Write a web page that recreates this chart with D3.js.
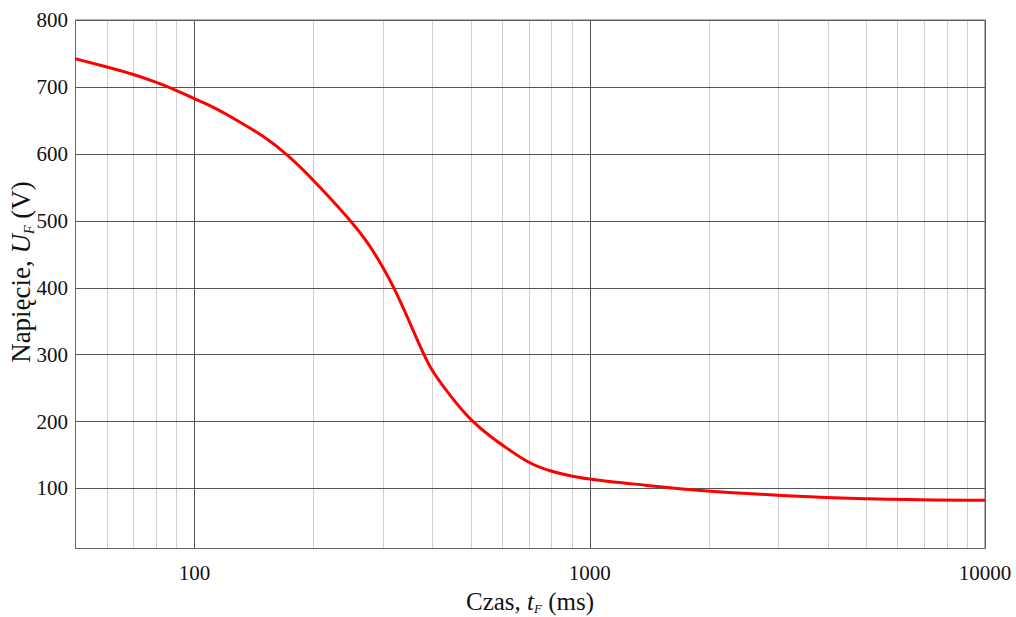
<!DOCTYPE html>
<html>
<head>
<meta charset="utf-8">
<script src="https://cdn.jsdelivr.net/npm/d3@7"></script>
<style>
  body { margin: 0; background: #fff; }
  svg { display: block; font-family: "Liberation Serif", "DejaVu Serif", serif; }
</style>
</head>
<body>
<svg id="chart" width="1016" height="617"></svg>
<script>
// curve values
const timeMs = [50, 60, 70, 80, 90, 100, 110, 130, 150, 171, 200, 248, 278, 300, 320, 345, 380, 400, 444, 500, 570, 600, 700, 800, 900, 1000, 1420, 1690, 2000, 2540, 3000, 4000, 5000, 6000, 10000]
const voltage = [742, 730, 719, 707, 695, 682, 672, 648, 626, 600, 561, 501, 463, 430, 400, 357, 300, 274, 238, 201, 174, 165, 137, 125, 118, 113, 104, 99, 95.5, 92, 89.6, 86, 84.5, 83, 82]

const xMajor = [100, 1000, 10000]
const xMinor = [60, 70, 80, 90, 200, 300, 400, 500, 600, 700, 800, 900, 2000, 3000, 4000, 5000, 6000, 7000, 8000, 9000]
const yTicks = [100, 200, 300, 400, 500, 600, 700, 800]

const data = timeMs.map((t, i) => ({ t: t, u: voltage[i] }))

const margin = { left: 75.5, top: 20, right: 1016 - 985, bottom: 617 - 548.5 }
const width = 1016, height = 617

const x = d3.scaleLog()
    .domain([50, 10000])
    .range([margin.left, width - margin.right])

const y = d3.scaleLinear()
    .domain([10, 800])
    .range([height - margin.bottom, margin.top])

const svg = d3.select("#chart")

// minor grid
svg.append("g")
  .selectAll("line")
  .data(xMinor)
  .join("line")
    .attr("x1", d => Math.round(x(d)) + 0.5)
    .attr("x2", d => Math.round(x(d)) + 0.5)
    .attr("y1", y(10))
    .attr("y2", y(800))
    .attr("stroke", "#d0d0d0")
    .attr("stroke-width", 1)

// major grid
svg.append("g")
  .selectAll("line")
  .data(yTicks)
  .join("line")
    .attr("x1", x(50))
    .attr("x2", x(10000))
    .attr("y1", d => Math.round(y(d)) + 0.5)
    .attr("y2", d => Math.round(y(d)) + 0.5)
    .attr("stroke", "#555")
    .attr("stroke-width", 1)

svg.append("g")
  .selectAll("line")
  .data(xMajor)
  .join("line")
    .attr("x1", d => Math.round(x(d)) + 0.5)
    .attr("x2", d => Math.round(x(d)) + 0.5)
    .attr("y1", y(10))
    .attr("y2", y(800))
    .attr("stroke", "#555")
    .attr("stroke-width", 1)

// frame
svg.append("rect")
    .attr("x", x(50))
    .attr("y", y(800))
    .attr("width", x(10000) - x(50))
    .attr("height", y(10) - y(800))
    .attr("fill", "none")
    .attr("stroke", "#666")
    .attr("stroke-width", 1)

// tick labels
svg.append("g")
    .style("font-size", "21px")
  .selectAll("text")
  .data(yTicks)
  .join("text")
    .attr("x", 68)
    .attr("y", d => y(d))
    .attr("dy", "0.34em")
    .attr("text-anchor", "end")
    .attr("fill", "#111")
    .text(d => d)

svg.append("g")
    .style("font-size", "21px")
  .selectAll("text")
  .data(xMajor)
  .join("text")
    .attr("x", d => x(d))
    .attr("y", 580)
    .attr("text-anchor", "middle")
    .attr("fill", "#111")
    .text(d => d)

// curve, smoothed through the read points
const line = d3.line()
    .x(d => x(d.t))
    .y(d => y(d.u))
    .curve(d3.curveBasis)

svg.append("path")
    .datum(data)
    .attr("d", line)
    .attr("fill", "none")
    .attr("stroke", "#ff0000")
    .attr("stroke-width", 3)

// axis titles
const xt = svg.append("text")
    .attr("x", 530)
    .attr("y", 610)
    .attr("text-anchor", "middle")
    .style("font-size", "25px")
    .attr("fill", "#111")
xt.append("tspan").text("Czas, ")
xt.append("tspan").attr("font-style", "italic").text("t")
xt.append("tspan").attr("font-style", "italic").attr("font-size", "13px").attr("dy", 3).text("F")
xt.append("tspan").attr("dy", -3).text(" (ms)")

const yt = svg.append("text")
    .attr("transform", "translate(30,272) rotate(-90)")
    .attr("text-anchor", "middle")
    .style("font-size", "27px")
    .attr("fill", "#111")
yt.append("tspan").text("Napięcie, ")
yt.append("tspan").attr("font-style", "italic").text("U")
yt.append("tspan").attr("font-style", "italic").attr("font-size", "14px").attr("dy", 4).text("F")
yt.append("tspan").attr("dy", -4).text(" (V)")
</script>
</body>
</html>
